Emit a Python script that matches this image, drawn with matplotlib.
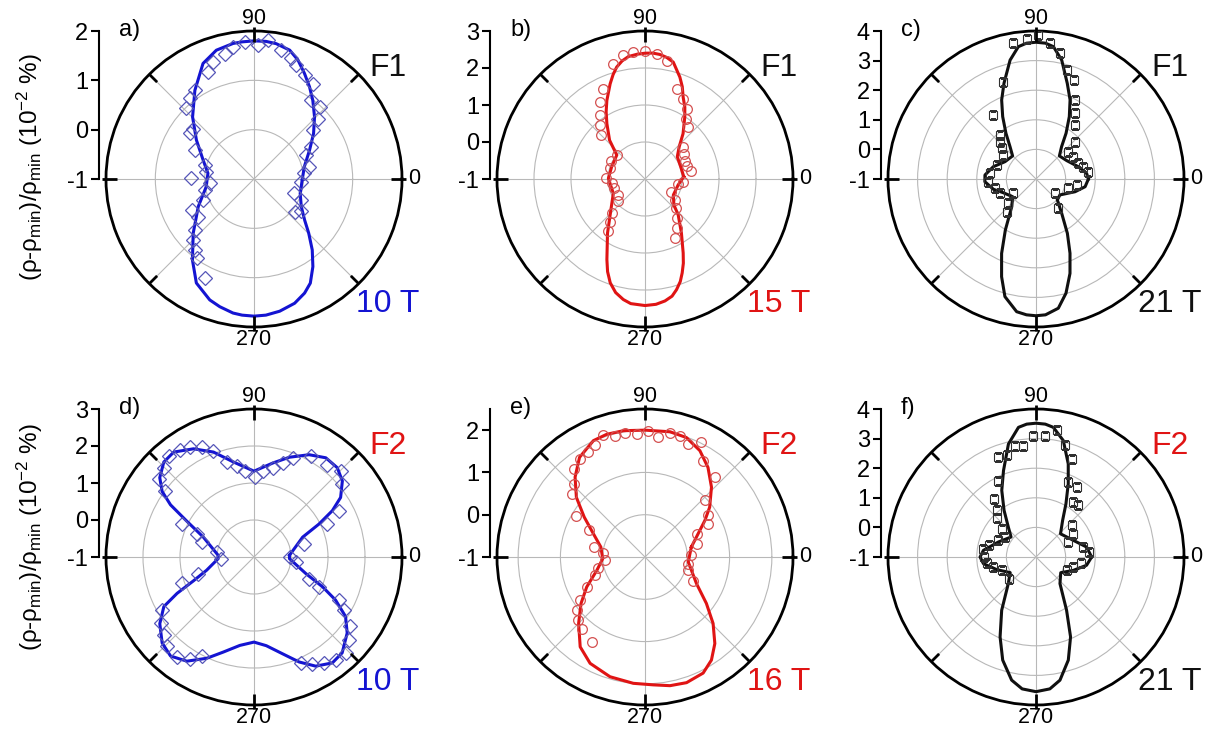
import numpy as np
import matplotlib.pyplot as plt

plt.rcParams['font.family'] = ['Liberation Sans', 'DejaVu Sans']
plt.rcParams['mathtext.default'] = 'regular'

W, H = 1225, 738

# ---- a) F1, 10 T ----
a_fit_deg = [0, 13.7, 27.5, 37.4, 45.8, 53.2, 58.9, 64.4, 69.7, 74.5, 80.7, 85, 90, 95, 98.8,
             106.3, 113.8, 123.7, 134.7, 145.9, 159.6, 173, 180, 189.1, 206.3, 221.7, 232.7,
             241, 249.9, 255, 261.1, 265, 270, 275, 281, 288.1, 293.9, 298.4, 303.9, 309.4,
             315.3, 321, 329.7, 342.8, 350]
a_fit_val = [-0.02, 0.05, 0.27, 0.52, 0.76, 0.99, 1.18, 1.37, 1.57, 1.71, 1.78, 1.80, 1.80, 1.79, 1.78,
             1.72, 1.56, 1.16, 0.77, 0.41, 0.10, -0.06, -0.05, -0.02, 0.26, 0.65, 1.06,
             1.41, 1.61, 1.68, 1.75, 1.77, 1.78, 1.77, 1.73, 1.65, 1.53, 1.40, 1.14, 0.86,
             0.56, 0.32, 0.11, -0.02, -0.03]
a_pts_deg = [84.2, 88.3, 93.9, 99, 103.1, 109.3, 113.2, 123.7, 128.6, 133.8, 140.3, 144.6, 153.9,
             164.2, 171.3, 179.4, 184.7, 192.6, 202.4, 206.3, 213.9, 220.7, 225, 230.1, 234, 243.6,
             78, 72.8, 69.6, 64, 58.3, 54, 47.8, 43.5, 39.7, 29.4, 24.6, 12.5, 6.4, 356.8, 340.6,
             336.1, 321.2, 325.4]
a_pts_val = [1.83, 1.71, 1.78, 1.71, 1.61, 1.51, 1.36, 1.16, 1.09, 0.98, 0.60, 0.60, 0.34,
             0.04, -0.02, 0.27, -0.10, 0.02, 0.12, 0.41, 0.37, 0.58, 0.75, 0.87, 0.98, 1.24,
             1.67, 1.56, 1.46, 1.34, 1.27, 0.97, 0.98, 0.78, 0.55, 0.33, 0.16, 0.15, 0.03, -0.04, -0.13,
             0.05, 0.06, 0.16]

# ---- b) F1, 15 T ----
b_fit_deg = [3.4, 19.1, 34.6, 43.3, 50, 57.3, 61, 65, 68, 71.1, 76.4, 80, 83.2, 86.5, 90, 93.5, 97.7,
             101, 104.2, 107, 110.1, 115.9, 120, 124.5, 132.4, 139.7, 159.7, 179, 204.4, 222, 235.3,
             244.7, 248, 251.5, 255.5, 259.8, 263.5, 270, 275, 279.3, 283, 285.9, 289, 291.6, 294.5,
             297.3, 304, 312.8, 318.1, 330.5, 349.8]
b_fit_val = [0.05, 0.02, 0.06, 0.27, 0.60, 0.99, 1.22, 1.44, 1.69, 1.91, 2.25, 2.34, 2.39, 2.41, 2.40,
             2.38, 2.34, 2.25, 2.12, 1.95, 1.74, 1.36, 1.10, 0.82, 0.42, 0.00, -0.04, -0.01, -0.06,
             0.24, 0.78, 1.41, 1.70, 1.96, 2.17, 2.31, 2.39, 2.42, 2.40, 2.34, 2.25, 2.11, 1.93, 1.73,
             1.50, 1.25, 0.76, 0.32, 0.05, -0.12, -0.09]
b_pts_deg = [90, 84.7, 79.6, 95.2, 99.9, 105.3, 115, 120.2, 125.1, 129.8, 135.2, 70.7, 64.6, 59.5,
             55.5, 50.4, 40.1, 32.7, 24.6, 17.1, 10.3, 356, 351.5, 334.6, 325, 317.2, 308.8, 302.7,
             296.8, 139.7, 151.9, 163.4, 179, 186.3, 196.8, 211, 219.3, 225.8, 230.6, 234.4]
b_pts_val = [2.47, 2.38, 2.24, 2.44, 2.39, 2.23, 1.69, 1.41, 1.10, 0.89, 0.68, 1.58, 1.40, 1.21,
             0.98, 0.83, 0.35, 0.25, 0.18, 0.19, 0.25, 0.03, -0.09, -0.21, -0.01, 0.16, 0.36, 0.58,
             0.79, 0.00, 0.05, 0.00, 0.05, -0.10, -0.13, -0.16, -0.04, 0.29, 0.49, 0.74]

# ---- c) F1, 21 T ----
c_fit_deg = [0, 6.4, 16.2, 30.9, 44.6, 51.6, 56.7, 61.9, 66.7, 71.9, 77.8, 82.5, 86, 90, 94, 97.6,
             102.3, 108.5, 113.5, 118.1, 123.3, 128.8, 135.4, 150.8, 163.9, 175.5, 183, 193.6,
             202.7, 217.1, 228.7, 239, 245.2, 250.6, 255.2, 261.7, 266, 270, 274, 279.8, 284.7,
             289.8, 294.6, 300, 306.8, 315.5, 326.3, 342, 351.1]
c_fit_val = [0.77, 0.72, 0.49, 0.21, 0.11, 0.39, 0.85, 1.39, 1.91, 2.40, 3.11, 3.51, 3.60, 3.62, 3.60, 3.51,
             3.11, 2.41, 1.91, 1.39, 0.85, 0.40, 0.11, 0.20, 0.50, 0.73, 0.73, 0.48,
             0.20, -0.01, 0.24, 1.01, 1.77, 2.50, 3.11, 3.53, 3.60, 3.62, 3.60, 3.43, 2.99,
             2.39, 1.76, 1.12, 0.45, 0.01, -0.03, 0.39, 0.68]
c_pts_deg = [89.1, 93.8, 99.5, 84.1, 79.2, 74.3, 69, 108.9, 63.9, 59.3, 54.2, 123.7, 129.3, 134,
             138.2, 143.7, 43.7, 40.2, 30.9, 20.3, 14.6, 8, 351.6, 343.9, 324.3, 307.3, 160.4, 173,
             183.2, 192.8, 201.7, 212.3, 221.3, 228]
c_pts_val = [3.86, 3.73, 3.65, 3.61, 3.32, 2.83, 2.58, 2.48, 1.98, 1.58, 1.25, 1.60, 0.92, 0.75,
             0.56, 0.37, 0.82, 0.43, 0.47, 0.52, 0.65, 0.78, 0.39, 0.14, -0.21, 0.25, 0.41, 0.57,
             0.61, 0.42, 0.31, -0.09, 0.24, 0.48]

# ---- d) F2, 10 T ----
d_fit_deg = [2.7, 22.2, 26.9, 30.6, 34.5, 40.7, 47, 54.1, 61.7, 70.5, 78.7, 90, 102.3, 111.1, 119.2,
             127.4, 133.5, 139.9, 144.5, 148, 152, 158.6, 177.3, 182.7, 195.6, 201.5, 205.3, 208.8,
             215.3, 223.1, 229.9, 237.2, 245, 252.1, 260.9, 270, 277.9, 286.5, 293.3, 299.5, 306.5,
             312.6, 320.8, 327, 332.2, 336.5, 342.3, 357.3]
d_fit_val = [-0.04, 0.42, 0.97, 1.46, 1.84, 2.15, 2.30, 2.31, 2.14, 1.86, 1.59, 1.32, 1.63, 2.04, 2.35,
             2.57, 2.54, 2.33, 2.05, 1.66, 1.05, 0.47, -0.03, -0.03, 0.33, 0.76, 1.30, 1.78,
             2.12, 2.40, 2.50, 2.35, 2.02, 1.70, 1.42, 1.30, 1.42, 1.73, 2.09, 2.39, 2.56,
             2.52, 2.25, 1.95, 1.49, 1.02, 0.47, -0.04]
d_pts_deg = [89.5, 96.1, 100.9, 106.1, 111, 115.4, 120, 124.7, 130.2, 135.3, 140.8, 143.5, 155.4,
             158, 164.1, 172.4, 182.9, 84.1, 78.1, 73, 68.6, 60.6, 51.6, 44.8, 39.5, 28.6, 24.2,
             14.7, 0, 353.3, 338.7, 335.4, 333.2, 329.5, 324.3, 318.9, 313.7, 308.5, 303.5, 298.6,
             293.9, 209.9, 215.2, 220.7, 225.7, 232.4, 238.1, 242.2, 200.1, 196.6]
d_pts_val = [1.16, 1.33, 1.50, 1.68, 2.06, 2.28, 2.44, 2.53, 2.57, 2.43, 2.32, 1.98, 1.14,
             0.67, 0.47, 0.02, -0.12, 1.33, 1.46, 1.66, 1.86, 2.13, 2.19, 2.30, 2.09, 1.61, 1.17,
             0.40, -0.04, 0.14, 0.60, 0.93, 1.57, 1.82, 2.21, 2.40, 2.58, 2.54, 2.43, 2.30,
             2.13, 1.86, 2.09, 2.22, 2.37, 2.41, 2.26, 2.03, 1.07, 0.57]

# ---- e) F2, 16 T ----
e_fit_deg = [12.1, 23.6, 31.4, 37.6, 46.4, 54.9, 62.7, 70.9, 78.7, 90, 99.7, 107.3, 113.9, 123.3,
             131.2, 139, 146.7, 155.7, 167.3, 182.3, 195.4, 207.2, 216, 225, 234.2, 242.7, 253.7,
             264.7, 273.7, 281, 288.3, 296.6, 302.8, 308.9, 315.7, 322.9, 332.7, 353.4]
e_fit_val = [0.12, 0.37, 0.66, 0.93, 1.28, 1.59, 1.83, 1.99, 2.02, 2.00, 2.03, 2.04, 2.01, 1.82,
             1.51, 1.15, 0.72, 0.34, 0.07, 0.00, 0.18, 0.55, 0.87, 1.22, 1.62, 1.83, 1.95,
             2.00, 2.03, 2.10, 2.13, 2.07, 1.90, 1.63, 1.25, 0.82, 0.37, 0.03]
e_pts_deg = [109, 103.9, 99.1, 93.9, 88.5, 83.7, 78.6, 74, 69.1, 63.8, 58.9, 48.8, 43.4, 33.3, 27.8,
             24.3, 14.5, 2, 351.3, 343.7, 333.6, 113.9, 118.4, 123.5, 128.8, 134.3, 139.2, 148.9,
             154.2, 169, 174.6, 184.8, 192.9, 200.1, 207.2, 213.7, 218, 223.5, 228.9, 237.9]
e_pts_val = [2.06, 1.95, 1.98, 1.91, 1.99, 1.86, 1.98, 1.98, 1.86, 2.02, 1.66, 1.51, 0.95, 0.79, 0.69,
             0.34, 0.26, 0.10, 0.03, 0.06, 0.27, 1.90, 1.81, 1.78, 1.67, 1.42, 1.28, 0.90,
             0.48, 0.24, 0.00, -0.05, 0.13, 0.26, 0.55, 0.84, 1.04, 1.17, 1.27, 1.36]

# ---- f) F2, 21 T ----
f_fit_deg = [0, 11.2, 24.1, 43.4, 54, 60.6, 66.2, 70.9, 76.8, 82.4, 86, 90, 94, 97.7, 103.7, 110.6,
             117.2, 124.4, 132.7, 141.3, 158.3, 172.8, 180, 187.2, 197.9, 211.1, 223.9, 237.2,
             245.8, 252.1, 258.8, 264, 270, 276, 281, 287.4, 293.4, 299.9, 312, 327.6, 340.3, 350.7]
f_fit_val = [0.88, 0.74, 0.38, 0.14, 0.53, 1.06, 1.70, 2.33, 3.04, 3.42, 3.50, 3.52, 3.50, 3.42, 2.93, 2.12,
             1.53, 0.91, 0.38, 0.08, 0.37, 0.79, 0.89, 0.79, 0.39, 0.02, 0.30, 1.14,
             1.96, 2.66, 3.24, 3.48, 3.55, 3.48, 3.24, 2.65, 1.94, 1.07, 0.21, -0.01, 0.34, 0.73]
f_pts_deg = [80.8, 85.8, 91.3, 96.5, 100.7, 106.1, 110.5, 116.2, 125.8, 130.1, 135, 140.5, 147.2,
             156.1, 166.2, 171, 180, 186.9, 193.2, 201.2, 218.1, 75.6, 70.1, 66.7, 59.8, 55.8, 50.7,
             41.1, 32, 24.9, 11.9, 5.4, 352.5, 345, 336.5]
f_pts_val = [3.35, 3.11, 3.10, 2.76, 2.80, 2.57, 2.62, 1.88, 1.42, 1.06, 0.88, 0.50, 0.24,
             0.39, 0.65, 0.80, 0.75, 0.68, 0.48, 0.24, 0.18, 2.92, 2.53, 1.75, 1.73, 1.24, 1.25,
             0.62, 0.48, 0.20, 0.63, 0.81, 0.55, 0.30, 0.13]

BLUE, BLUE_M = '#1414d2', '#5656b8'
RED, RED_M = '#e01414', '#d45050'
BLACK, BLACK_M = '#101010', '#303030'

# tag, centre (px), r max, curve, points, marker, colours, F label, field
panels = [
    ('a)', (254, 179), 2.0, a_fit_deg, a_fit_val, a_pts_deg, a_pts_val, 'D', BLUE, BLUE_M, 'F1', BLACK, '10 T', BLUE),
    ('b)', (645, 179), 3.0, b_fit_deg, b_fit_val, b_pts_deg, b_pts_val, 'o', RED, RED_M, 'F1', BLACK, '15 T', RED),
    ('c)', (1036, 179), 4.0, c_fit_deg, c_fit_val, c_pts_deg, c_pts_val, 's', BLACK, BLACK_M, 'F1', BLACK, '21 T', BLACK),
    ('d)', (254, 557), 3.0, d_fit_deg, d_fit_val, d_pts_deg, d_pts_val, 'D', BLUE, BLUE_M, 'F2', RED, '10 T', BLUE),
    ('e)', (645, 557), 2.5, e_fit_deg, e_fit_val, e_pts_deg, e_pts_val, 'o', RED, RED_M, 'F2', RED, '16 T', RED),
    ('f)', (1036, 557), 4.0, f_fit_deg, f_fit_val, f_pts_deg, f_pts_val, 's', BLACK, BLACK_M, 'F2', RED, '21 T', BLACK),
]

R = 148
fig = plt.figure(figsize=(W / 100, H / 100), dpi=100)

for (tag, (cx, cy), rmax, fdeg, fval, pdeg, pval, mk, col, mcol, flab, fcol, tlab, tcol) in panels:
    ax = fig.add_axes([(cx - R) / W, (H - cy - R) / H, 2 * R / W, 2 * R / H], projection='polar')
    ax.set_ylim(-1, rmax)
    ax.set_rgrids(np.arange(0, np.ceil(rmax)), labels=[])
    ax.set_xticks(np.deg2rad(np.arange(0, 360, 45)))
    ax.set_xticklabels(['0', '', '90', '', '', '', '270', ''])
    ax.tick_params(axis='x', length=0, labelsize=15.5, pad=2)
    ax.grid(color='#b8b8b8', lw=0.8)
    ax.spines['polar'].set_linewidth(2)

    # tick marks on the rim: inward every 45 deg, crossing the rim at the axes
    span = rmax + 1
    for ang in range(0, 360, 45):
        out = 4 / R * span if ang % 90 == 0 else 0
        ax.plot([np.deg2rad(ang)] * 2, [rmax - 11 / R * span, rmax + out], color='k', lw=2,
                solid_capstyle='butt', clip_on=False, zorder=5)

    th = np.deg2rad(np.append(fdeg, fdeg[0]))
    ax.plot(th, np.append(fval, fval[0]), color=col, lw=2.2, zorder=3)
    ax.plot(np.deg2rad(pdeg), pval, ls='none', marker=mk, mfc='none', mec=mcol,
            ms=7 if mk != 's' else 6, mew=0.9 if mk != 's' else 0.8, zorder=4)

    # radial scale on the left
    axr = fig.add_axes([(cx - R - 7) / W, (H - cy) / H, 0.0001, R / H])
    axr.set_ylim(-1, rmax)
    rt = np.arange(-1, np.floor(rmax) + 1)
    axr.set_yticks(rt)
    axr.set_yticklabels([str(int(v)) for v in rt])
    axr.tick_params(axis='y', direction='out', length=6, width=1.5, labelsize=17, pad=2)
    axr.set_xticks([])
    for s in ['top', 'right', 'bottom']:
        axr.spines[s].set_visible(False)
    axr.spines['left'].set_linewidth(1.5)
    axr.patch.set_visible(False)

    fig.text((cx - 135) / W, 1 - (cy - 149) / H, tag, fontsize=17, ha='left', va='center')
    fig.text((cx + 134) / W, 1 - (cy - 111) / H, flab, fontsize=23, color=fcol, ha='center', va='center')
    fig.text((cx + 134) / W, 1 - (cy + 125) / H, tlab, fontsize=23, color=tcol, ha='center', va='center')

ylab = '(ρ-ρ$_{min}$)/ρ$_{min}$ (10$^{-2}$ %)'
fig.text(30 / W, 1 - 167 / H, ylab, fontsize=17.5, rotation=90, ha='center', va='center')
fig.text(30 / W, 1 - 537 / H, ylab, fontsize=17.5, rotation=90, ha='center', va='center')

fig.savefig('out.png', dpi=100)
